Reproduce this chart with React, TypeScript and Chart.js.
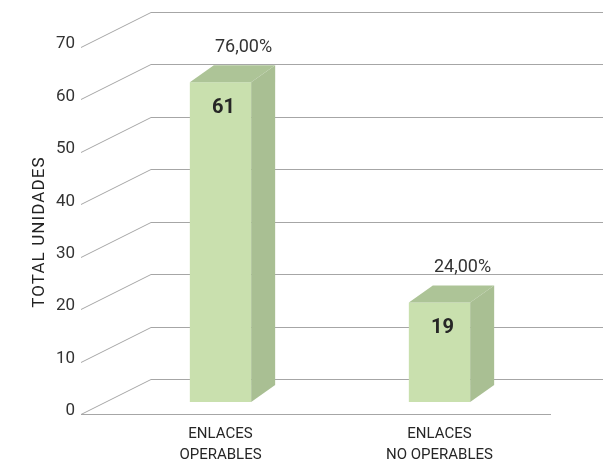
import React, { useEffect, useRef } from "react";
import { Chart, registerables } from "chart.js";

Chart.register(...registerables);

// Data
const categories: string[][] = [["ENLACES", "OPERABLES"], ["ENLACES", "NO OPERABLES"]];
const unidades: number[] = [61, 19];
const porcentajes: string[] = ["76,00%", "24,00%"];
const yTicks: number[] = [0, 10, 20, 30, 40, 50, 60, 70];
const yTitle = "TOTAL UNIDADES";

// Styling
const FRONT = "#c9e0ae";
const TOP = "#adc497";
const SIDE = "#a9bf93";
const GRID = "#a6a6a6";
const TEXT = "#333333";
const FONT = "Roboto, 'Noto Sans', sans-serif";

// 3D geometry: wall depth and bar depth (pixels)
const WALL_DX = 70;
const WALL_DY = 35;
const FRONT_SHIFT_X = 30; // front plane sits left/below the bar plane
const FRONT_SHIFT_Y = 12;
const BAR_DX = 24;
const BAR_DY = 17;

const wallPlugin = {
  id: "wall3d",
  beforeDatasetsDraw(chart: any) {
    const { ctx, chartArea, scales } = chart;
    const y = scales.y;
    const fx = chartArea.left - FRONT_SHIFT_X;
    ctx.save();
    ctx.strokeStyle = GRID;
    ctx.lineWidth = 1;
    yTicks.forEach((v) => {
      const fy = Math.round(y.getPixelForValue(v) + FRONT_SHIFT_Y) + 0.5;
      const by = fy - WALL_DY;
      ctx.beginPath();
      ctx.moveTo(fx, fy);
      ctx.lineTo(fx + WALL_DX, by);
      ctx.lineTo(chart.width, by);
      ctx.stroke();
      if (v === 0) {
        ctx.beginPath();
        ctx.moveTo(fx, fy);
        ctx.lineTo(chartArea.right + 2, fy);
        ctx.stroke();
      }
    });
    ctx.restore();
  },
  afterDatasetsDraw(chart: any) {
    const { ctx } = chart;
    const meta = chart.getDatasetMeta(0);
    ctx.save();
    meta.data.forEach((bar: any, i: number) => {
      const { x, y, base, width } = bar.getProps(["x", "y", "base", "width"], true);
      const l = x - width / 2;
      const r = x + width / 2;
      // top face
      ctx.fillStyle = TOP;
      ctx.beginPath();
      ctx.moveTo(l, y);
      ctx.lineTo(r, y);
      ctx.lineTo(r + BAR_DX, y - BAR_DY);
      ctx.lineTo(l + BAR_DX, y - BAR_DY);
      ctx.closePath();
      ctx.fill();
      // side face
      ctx.fillStyle = SIDE;
      ctx.beginPath();
      ctx.moveTo(r, y);
      ctx.lineTo(r + BAR_DX, y - BAR_DY);
      ctx.lineTo(r + BAR_DX, base - BAR_DY);
      ctx.lineTo(r, base);
      ctx.closePath();
      ctx.fill();

      // value inside the bar
      ctx.fillStyle = "#262626";
      ctx.font = `bold 20px ${FONT}`;
      ctx.textAlign = "center";
      ctx.textBaseline = "middle";
      ctx.fillText(String(unidades[i]), x + 3, y + 26);

      // percentage above the bar
      ctx.fillStyle = TEXT;
      ctx.font = `18px ${FONT}`;
      ctx.fillText(porcentajes[i], x + BAR_DX - 1, y - BAR_DY - 18);
    });

    // vertical axis title
    ctx.translate(40, 232);
    ctx.rotate(-Math.PI / 2);
    ctx.fillStyle = "#222222";
    ctx.font = `17px ${FONT}`;
    (ctx as any).letterSpacing = "1.1px";
    ctx.textAlign = "center";
    ctx.textBaseline = "middle";
    ctx.fillText(yTitle, 0, 0);
    ctx.restore();
  },
};

export default function App() {
  const canvasRef = useRef<HTMLCanvasElement | null>(null);

  useEffect(() => {
    if (!canvasRef.current) return;
    const chart = new Chart(canvasRef.current, {
      type: "bar",
      data: {
        labels: categories,
        datasets: [
          {
            data: unidades,
            backgroundColor: FRONT,
            borderWidth: 0,
            barPercentage: 1,
            categoryPercentage: 0.28,
          },
        ],
      },
      options: {
        animation: false,
        responsive: false,
        layout: { padding: { top: 35, right: 54, left: 0, bottom: 0 } },
        plugins: {
          legend: { display: false },
          tooltip: { enabled: false },
        },
        scales: {
          x: {
            grid: { display: false, drawTicks: false },
            border: { display: false },
            ticks: {
              color: "#262626",
              padding: 22,
              maxRotation: 0,
              font: { family: FONT, size: 15, lineHeight: 1.4 },
            },
            afterFit(scale: any) {
              scale.height = 62;
              scale.paddingLeft = 0;
              scale.paddingRight = 0;
            },
          },
          y: {
            min: 0,
            max: 70,
            grid: { display: false, drawTicks: false },
            border: { display: false },
            ticks: {
              stepSize: 10,
              padding: 36,
              labelOffset: 9,
              color: TEXT,
              font: { family: FONT, size: 17 },
            },
            afterFit(scale: any) {
              scale.width = 111;
              scale.paddingTop = 0;
              scale.paddingBottom = 0;
            },
          },
        },
      },
      plugins: [wallPlugin],
    });
    return () => chart.destroy();
  }, []);

  return (
    <div style={{ position: "fixed", left: 0, top: 0, width: 603, height: 464, background: "#ffffff" }}>
      <canvas ref={canvasRef} width={603} height={464} style={{ display: "block" }} />
    </div>
  );
}
